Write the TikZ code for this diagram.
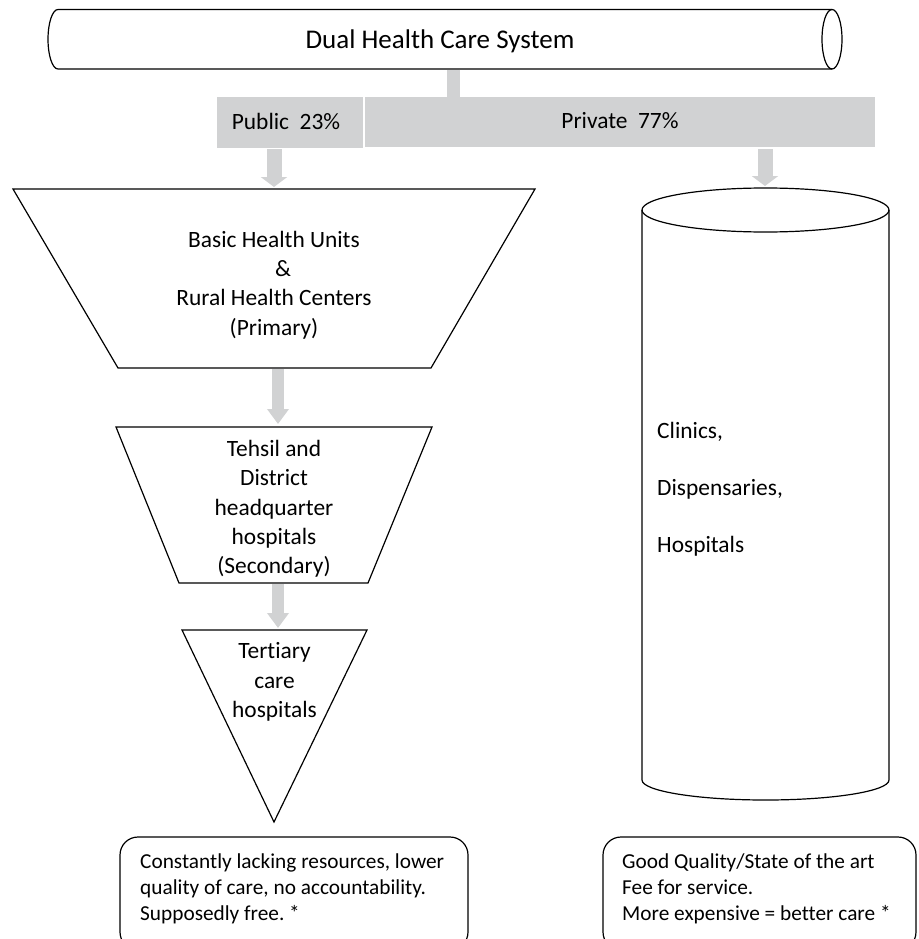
\documentclass[tikz,border=0pt]{standalone}
\usepackage{fontspec}
\setmainfont{Carlito}[Ligatures=NoCommon]
\usetikzlibrary{arrows.meta}
\definecolor{boxgray}{RGB}{209,210,211}
\frenchspacing
\begin{document}
\begin{tikzpicture}[x=1pt,y=-1pt,
  outline/.style={draw=black,line width=1.2pt},
  body/.style={font=\fontsize{23.4}{29.3}\selectfont, inner sep=0pt},
  note/.style={font=\fontsize{21.3}{26}\selectfont, inner sep=0pt, align=left, anchor=west},
  bigarrow/.style={draw=boxgray,line width=15pt,-{Triangle[width=26pt,length=10pt]}},
  smallarrow/.style={draw=boxgray,line width=12pt,-{Triangle[width=21pt,length=15pt]}},
  graybar/.style={fill=boxgray,inner sep=0pt},
]
\useasboundingbox (0,0) rectangle (918,939);
\clip (0,0) rectangle (918,939);

% top horizontal cylinder
\draw[outline] (832,9.5) -- (58,9.5) arc[start angle=90,end angle=270,x radius=10pt,y radius=29.75pt] -- (832,69);
\draw[outline] (832,39.25) ellipse[x radius=10pt,y radius=29.75pt];
\node[body, font=\fontsize{27}{32}\selectfont] (title) at (440,41) {Dual Health Care System};

% connector and bars
\coordinate (conTop) at (453.5,70);
\coordinate (conBot) at (453.5,97);
\draw[draw=boxgray,line width=13pt] (conTop) -- (conBot);
\node[graybar, minimum width=146pt, minimum height=51pt] (pubbar) at (290,122.5) {};
\node[graybar, minimum width=510.5pt, minimum height=50pt] (privbar) at (619.75,122) {};
\node[body] (pubtxt) at (286,121) {Public\ \ 23\%};
\node[body] (privtxt) at (620,121) {Private\ \ 77\%};

% primary trapezoid
\draw[outline] (13,189) -- (535,189) -- (431,368) -- (118,368) -- cycle;
\node[body, align=center] (prim) at (274,285) {Basic Health Units\\\hspace*{18pt}\&\\Rural Health Centers\\(Primary)};

% secondary trapezoid
\draw[outline] (116,427) -- (432,427) -- (368,583) -- (179,583) -- cycle;
\node[body, align=center] (sec) at (274,509) {Tehsil and\\District\\headquarter\\hospitals\\(Secondary)};

% tertiary triangle
\draw[outline] (182,630) -- (367,630) -- (274,822) -- cycle;
\node[body, align=center] (ter) at (274.5,682) {Tertiary\\care\\hospitals};

% private vertical cylinder
\draw[outline] (765.5,210) ellipse[x radius=123.5pt,y radius=22pt];
\draw[outline] (642,210) -- (642,780) arc[start angle=180,end angle=360,x radius=123.5pt,y radius=20pt] -- (889,210);
\node[body, align=left, anchor=west, font=\fontsize{23.4}{57}\selectfont] (privtext) at (657,489) {Clinics,\\Dispensaries,\\Hospitals};

% arrows
\coordinate (a1s) at (274,149);
\coordinate (a1e) at (274,187);
\coordinate (a2s) at (765,149);
\coordinate (a2e) at (765,186);
\coordinate (a3s) at (278,369);
\coordinate (a3e) at (278,424);
\coordinate (a4s) at (278,584);
\coordinate (a4e) at (278,628);
\draw[bigarrow] (a1s) -- (a1e);
\draw[bigarrow] (a2s) -- (a2e);
\draw[smallarrow] (a3s) -- (a3e);
\draw[smallarrow] (a4s) -- (a4e);

% bottom boxes
\draw[outline, rounded corners=18pt] (120,837) rectangle (468,950);
\node[note] (pubnote) at (140,889) {Constantly lacking resources, lower\\quality of care, no accountability.\\Supposedly free. *};
\draw[outline, rounded corners=18pt] (603,837) rectangle (916,950);
\node[note] (privnote) at (622,889) {Good Quality/State of the art\\Fee for service.\\More expensive = better care *};
\end{tikzpicture}
\end{document}
